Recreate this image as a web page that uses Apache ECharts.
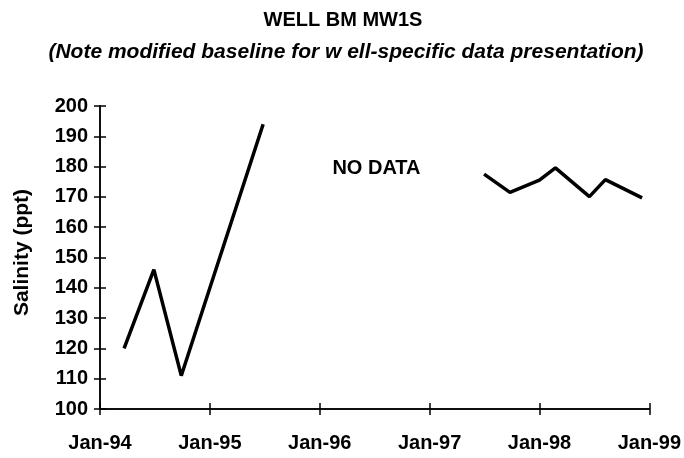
<!DOCTYPE html>
<html>
<head>
<meta charset="utf-8">
<script src="https://cdn.jsdelivr.net/npm/echarts@6/dist/echarts.min.js"></script>
<style>
html,body{margin:0;padding:0;background:#fff;}
#chart{width:684px;height:458px;}
</style>
</head>
<body>
<div id="chart"></div>
<script>
// Sample dates (null = gap in record)
const sampleDates = ['1994-03-22','1994-06-29','1994-09-28','1995-06-27', null,
  '1997-07-01','1997-09-25','1998-01-01','1998-02-23','1998-06-16','1998-08-08','1998-12-08'];
const salinity = [120, 146, 111, 194, null, 177.5, 171.5, 175.5, 179.6, 170.1, 175.7, 169.7];
const xTickYears = [1994, 1995, 1996, 1997, 1998, 1999];
const yTicks = [100, 110, 120, 130, 140, 150, 160, 170, 180, 190, 200];
const titleText = 'WELL BM MW1S';
const subtitleText = '(Note modified baseline for w ell-specific data presentation)';
const noDataLabel = 'NO DATA';
const noDataAt = ['1996-07-08', 179.5];
const yName = 'Salinity (ppt)';

function decYear(s) {
  const d = new Date(s + 'T00:00:00Z');
  const y = d.getUTCFullYear();
  const start = Date.UTC(y, 0, 1), end = Date.UTC(y + 1, 0, 1);
  return y + (d.getTime() - start) / (end - start);
}
const seriesData = sampleDates.map((d, i) => d === null ? [null, null] : [decYear(d), salinity[i]]);

const font = 'Liberation Sans, Arial, sans-serif';
const chart = echarts.init(document.getElementById('chart'), null, {renderer: 'canvas'});
const xBase = {
  type: 'value', min: xTickYears[0], max: xTickYears[xTickYears.length - 1], interval: 1,
  splitLine: {show: false},
  axisLine: {show: true, onZero: false, lineStyle: {color: '#000', width: 1.5}}
};
const yBase = {
  type: 'value', min: yTicks[0], max: yTicks[yTicks.length - 1], interval: 10,
  splitLine: {show: false},
  axisLine: {show: true, onZero: false, lineStyle: {color: '#000', width: 1.5}}
};
chart.setOption({
  animation: false,
  backgroundColor: '#fff',
  title: [
    {text: titleText, left: 338, textAlign: 'center', top: 5,
     textStyle: {fontFamily: font, fontSize: 20, fontWeight: 'bold', color: '#000'}},
    {text: subtitleText, left: 341, textAlign: 'center', top: 37,
     textStyle: {fontFamily: font, fontSize: 21, fontWeight: 'bold', fontStyle: 'italic', color: '#000'}}
  ],
  grid: {left: 100, right: 34, top: 106, bottom: 49, containLabel: false},
  xAxis: [
    Object.assign({}, xBase, {
      axisTick: {show: true, inside: false, length: 6, lineStyle: {color: '#000', width: 1.5}},
      axisLabel: {margin: 24, color: '#000', fontFamily: font, fontSize: 20, fontWeight: 'bold',
        formatter: v => 'Jan-' + String(v).slice(2)}
    }),
    Object.assign({}, xBase, {
      position: 'bottom',
      axisTick: {show: true, inside: true, length: 6, lineStyle: {color: '#000', width: 1.5}},
      axisLabel: {show: false}
    })
  ],
  yAxis: [
    Object.assign({}, yBase, {
      name: yName, nameLocation: 'middle', nameGap: 67, nameRotate: 90,
      nameTextStyle: {fontFamily: font, fontSize: 21, fontWeight: 'bold', color: '#000', padding: [0, 0, 0, 10]},
      axisTick: {show: true, inside: false, length: 6, lineStyle: {color: '#000', width: 1.5}},
      axisLabel: {margin: 12, color: '#000', fontFamily: font, fontSize: 20, fontWeight: 'bold'}
    }),
    Object.assign({}, yBase, {
      position: 'left',
      axisTick: {show: true, inside: true, length: 6, lineStyle: {color: '#000', width: 1.5}},
      axisLabel: {show: false}
    })
  ],
  series: [{
    type: 'line',
    data: seriesData,
    showSymbol: false,
    symbol: 'none',
    connectNulls: false,
    lineStyle: {color: '#000', width: 3.5},
    markPoint: {
      symbol: 'circle', symbolSize: 0,
      label: {show: true, formatter: noDataLabel, color: '#000', fontFamily: font, fontSize: 20, fontWeight: 'bold', position: 'inside'},
      data: [{coord: [decYear(noDataAt[0]), noDataAt[1]]}]
    }
  }]
});
</script>
</body>
</html>
